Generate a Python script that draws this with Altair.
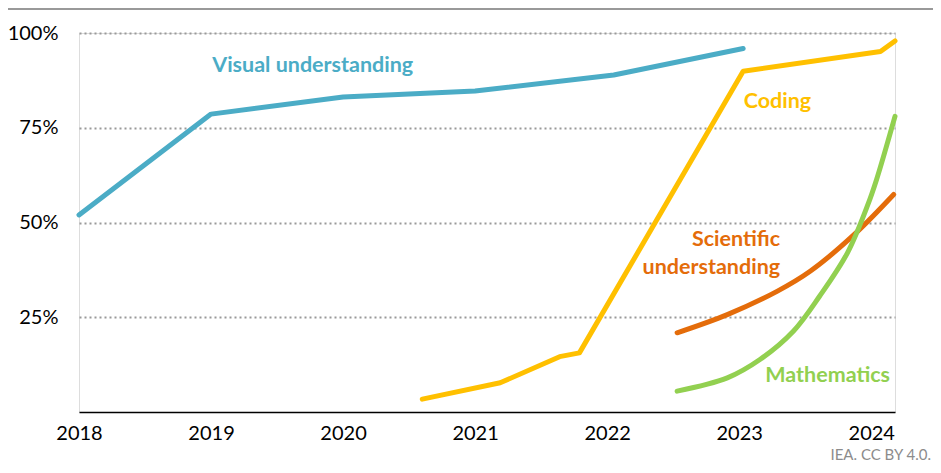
import altair as alt
import pandas as pd

# ---- data ----
visual_x = [2018.0, 2019.0, 2020.0, 2021.0, 2022.05, 2023.03]
visual_y = [52.0, 78.6, 83.1, 84.7, 88.9, 95.9]

coding_x = [2020.6, 2021.19, 2021.64, 2021.79, 2023.03, 2024.07, 2024.18]
coding_y = [3.4, 7.7, 14.6, 15.6, 89.9, 95.1, 97.9]

sci_x = [2022.53, 2022.91, 2023.29, 2023.54, 2023.87, 2024.17]
sci_y = [20.9, 25.7, 31.9, 37.2, 46.8, 57.4]

math_x = [2022.53, 2022.91, 2023.16, 2023.41, 2023.61, 2023.82, 2023.97, 2024.04, 2024.18]
math_y = [5.5, 9.0, 13.9, 21.3, 30.6, 42.0, 54.3, 61.3, 78.0]

series_names = ["Visual understanding", "Coding", "Scientific understanding", "Mathematics"]
series_colors = ["#4BACC6", "#FFC000", "#E46C0A", "#92D050"]

year_ticks = [2018, 2019, 2020, 2021, 2022, 2023, 2024]
pct_ticks = [25, 50, 75, 100]

# label annotations (text, x, y in data units)
label_text = ["Visual understanding", "Coding", "Mathematics"]
label_series = ["Visual understanding", "Coding", "Mathematics"]
label_x = [2019.77, 2023.29, 2023.67]
label_y = [91.2, 81.7, 9.6]

sci_label = ["Scientific", "understanding"]
sci_label_x = [2023.31, 2023.31]
sci_label_y = [45.5, 38.1]

source_text = "IEA. CC BY 4.0."

# ---- tables ----
def mk(name, xs, ys):
    return pd.DataFrame({"series": name, "year": xs, "value": ys})

df_lin = pd.concat([mk("Visual understanding", visual_x, visual_y),
                    mk("Coding", coding_x, coding_y)])
df_curve = pd.concat([mk("Scientific understanding", sci_x, sci_y),
                      mk("Mathematics", math_x, math_y)])

df_lab = pd.DataFrame({"text": label_text, "series": label_series,
                       "year": label_x, "value": label_y})
df_sci = pd.DataFrame({"text": sci_label, "series": "Scientific understanding",
                       "year": sci_label_x, "value": sci_label_y})

FONT = "Lato"
W, H = 816, 379

xscale = alt.Scale(domain=[2018, 2024.18], nice=False, zero=False)
yscale = alt.Scale(domain=[0, 100], nice=False)
cscale = alt.Scale(domain=series_names, range=series_colors)

x_enc = alt.X("year:Q", scale=xscale,
              axis=alt.Axis(values=year_ticks, format="d", title=None, ticks=False,
                            grid=False, domainColor="#000000", domainWidth=1.5,
                            labelFontSize=20, labelColor="#000000", labelFont=FONT,
                            labelPadding=11, labelFlush=False))
y_enc = alt.Y("value:Q", scale=yscale,
              axis=alt.Axis(values=pct_ticks, labelExpr="datum.value + '%'", title=None,
                            ticks=False, domain=False, grid=True, gridDash=[2, 3],
                            gridColor="#999999", gridWidth=2, labelFontSize=20,
                            labelColor="#000000", labelFont=FONT, labelPadding=21))
c_enc = alt.Color("series:N", scale=cscale, legend=None)

lines_lin = alt.Chart(df_lin).mark_line(strokeWidth=5, strokeCap="round",
                                        strokeJoin="round").encode(
    x=x_enc, y=y_enc, color=c_enc, detail="series:N")

lines_curve = alt.Chart(df_curve).mark_line(strokeWidth=5, strokeCap="round",
                                            interpolate="catmull-rom").encode(
    x="year:Q", y="value:Q", color=alt.Color("series:N", scale=cscale, legend=None),
    detail="series:N")

labels = alt.Chart(df_lab).mark_text(fontSize=21.5, fontWeight="bold", font=FONT,
                                     align="center", baseline="middle").encode(
    x="year:Q", y="value:Q", text="text:N",
    color=alt.Color("series:N", scale=cscale, legend=None))

sci_labels = alt.Chart(df_sci).mark_text(fontSize=21.5, fontWeight="bold", font=FONT,
                                         align="right", baseline="middle").encode(
    x="year:Q", y="value:Q", text="text:N",
    color=alt.Color("series:N", scale=cscale, legend=None))

top_rule = alt.Chart(pd.DataFrame({"k": [0]})).mark_rule(color="#999999", strokeWidth=2).encode(
    x=alt.value(-71), x2=alt.value(854), y=alt.value(-24))

source = alt.Chart(pd.DataFrame({"t": [source_text]})).mark_text(
    fontSize=15, font=FONT, color="#8c8c8c", align="right", baseline="alphabetic").encode(
    x=alt.value(852), y=alt.value(427), text="t:N")

chart = alt.layer(lines_lin, lines_curve, labels, sci_labels, top_rule, source).properties(
    width=W, height=H,
    autosize=alt.AutoSizeParams(type="none"),
    padding={"left": 71, "top": 25, "right": 38, "bottom": 53},
).configure_view(stroke=None).configure(background="#ffffff")

chart.save("out.html", embed_options={"renderer": "svg", "actions": False})
